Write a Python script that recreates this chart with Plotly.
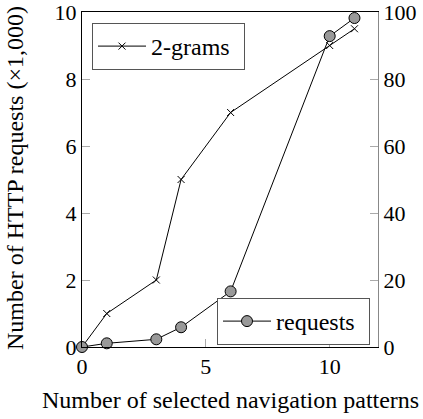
import plotly.graph_objects as go

x_vals = [0, 1, 3, 4, 6, 10, 11]
bigrams = [0, 1, 2, 5, 7, 9, 9.5]
requests = [0, 1.1, 2.3, 5.9, 16.6, 92.8, 98.2]

FONT = "Liberation Serif"
FS_TICK = 22
FS = 24
W, H = 423, 419
PL, PR, PT, PB = 82, 378, 12, 347  # plot area in page pixels
L, R, T, B = PL, W - PR, PT, H - PB
pw, ph = PR - PL, PB - PT


def px(xp):
    return (xp - PL) / pw


def py(yp):
    return 1 - (yp - PT) / ph


fig = go.Figure()
fig.add_trace(go.Scatter(
    x=x_vals, y=requests, name="requests", mode="lines+markers", yaxis="y2",
    line=dict(color="black", width=1), cliponaxis=False,
    marker=dict(symbol="circle", size=11, color="#999999", line=dict(color="black", width=1)),
    legend="legend2",
))
fig.add_trace(go.Scatter(
    x=x_vals, y=bigrams, name="2-grams", mode="lines+markers",
    line=dict(color="black", width=1), cliponaxis=False,
    marker=dict(symbol="x-thin", size=7, line=dict(color="black", width=1)),
    legend="legend",
))

tickfont = dict(family=FONT, size=FS_TICK, color="black")
common = dict(showgrid=False, zeroline=False, showline=True, linewidth=1, automargin=False,
              ticks="inside", ticklen=8, tickcolor="#aaaaaa", tickfont=tickfont,
              ticklabeloverflow="allow")
fig.update_layout(
    width=W, height=H,
    margin=dict(l=L, r=R, t=T, b=B, pad=0, autoexpand=False),
    paper_bgcolor="white", plot_bgcolor="white",
    font=dict(family=FONT, size=FS, color="black"),
    xaxis=dict(range=[0, 11.95], tickvals=[0, 5, 10], linecolor="black", mirror=True, **common),
    yaxis=dict(range=[0, 10], tickvals=[0, 2, 4, 6, 8, 10], linecolor="black", **common),
    yaxis2=dict(range=[0, 100], tickvals=[0, 20, 40, 60, 80, 100], overlaying="y", side="right",
                linecolor="#888888", **common),
    legend=dict(x=px(92), y=py(23), xanchor="left", yanchor="top", orientation="h",
                entrywidth=88,
                bordercolor="#555555", borderwidth=1, bgcolor="white",
                font=dict(family=FONT, size=FS), itemwidth=48),
    legend2=dict(x=px(370), y=py(298), xanchor="right", yanchor="top", orientation="h",
                 entrywidth=88,
                 bordercolor="#555555", borderwidth=1, bgcolor="white",
                 font=dict(family=FONT, size=FS), itemwidth=48),
    showlegend=True,
    annotations=[
        dict(text="Number of HTTP requests (\u00d71,000)", xref="paper", yref="paper",
             x=px(15), y=py(178), textangle=-90, showarrow=False,
             xanchor="center", yanchor="middle", font=dict(family=FONT, size=FS)),
        dict(text="Number of selected navigation patterns", xref="paper", yref="paper",
             x=px(230), y=py(400), showarrow=False,
             xanchor="center", yanchor="middle", font=dict(family=FONT, size=FS)),
    ],
)

fig.write_html("out.html", post_script="document.body.style.margin='0';",
               config={"displayModeBar": False})
